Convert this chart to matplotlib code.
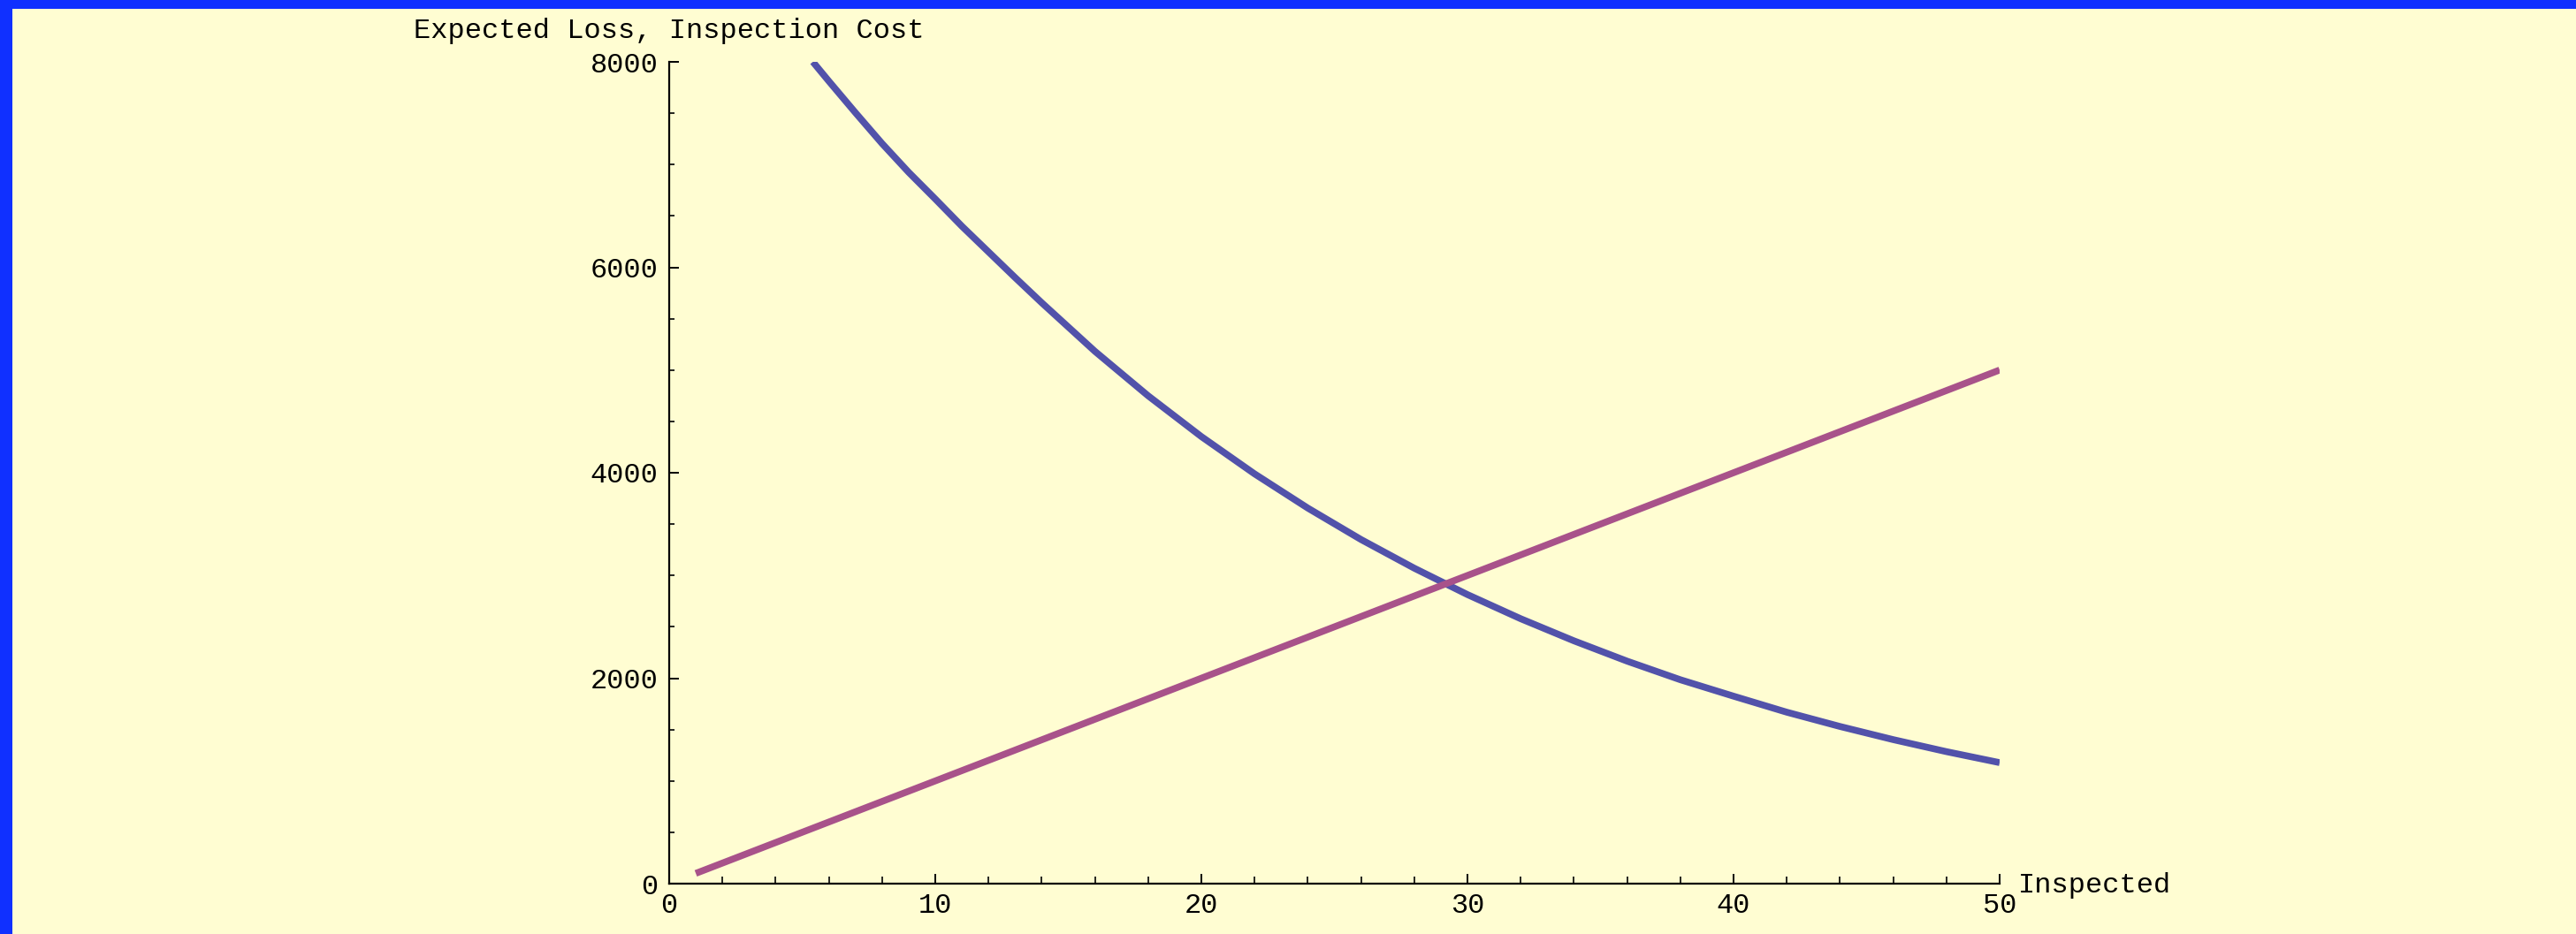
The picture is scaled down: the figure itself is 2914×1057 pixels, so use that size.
import matplotlib
matplotlib.use('Agg')
import matplotlib.pyplot as plt
from matplotlib.patches import Rectangle
from matplotlib.ticker import MultipleLocator

plt.rcParams['font.family'] = ['Liberation Mono', 'DejaVu Sans Mono']
plt.rcParams['font.size'] = 23

# values
inspected_cost = [1, 50]
cost = [100, 5000]

inspected_loss = [5.4, 6, 7, 8, 9, 10, 11, 12, 13, 14, 16, 18, 20, 22, 24, 26, 28,
                  30, 32, 34, 36, 38, 40, 42, 44, 46, 48, 50]
loss = [8000, 7812, 7505, 7205, 6925, 6665, 6400, 6150, 5900, 5655, 5182, 4749,
        4352, 3989, 3656, 3350, 3071, 2814, 2579, 2364, 2166, 1985, 1825, 1669,
        1530, 1402, 1285, 1178]

x_label = 'Inspected'
y_label = 'Expected Loss, Inspection Cost'

bg = '#FFFDD2'
W, H = 2914, 1057
fig = plt.figure(figsize=(W / 100, H / 100), dpi=100, facecolor=bg)
ax = fig.add_axes([757 / W, 1 - 1000 / H, (2262 - 757) / W, (1000 - 70) / H])
ax.set_facecolor(bg)

ax.plot(inspected_loss, loss, color='#5252AA', lw=5.5, solid_capstyle='butt',
        solid_joinstyle='round')
ax.plot(inspected_cost, cost, color='#A8528A', lw=5.5, solid_capstyle='butt')

ax.set_xlim(0, 50)
ax.set_ylim(0, 8000)
ax.spines['top'].set_visible(False)
ax.spines['right'].set_visible(False)
ax.spines['left'].set_linewidth(1.6)
ax.spines['bottom'].set_linewidth(1.6)

ax.xaxis.set_major_locator(MultipleLocator(10))
ax.xaxis.set_minor_locator(MultipleLocator(2))
ax.yaxis.set_major_locator(MultipleLocator(2000))
ax.yaxis.set_minor_locator(MultipleLocator(500))
ax.tick_params(axis='x', which='major', direction='in', length=8, width=1.4, pad=7)
ax.tick_params(axis='x', which='minor', direction='in', length=6, width=1.2)
ax.tick_params(axis='y', which='major', direction='in', length=8, width=1.4, pad=9)
ax.tick_params(axis='y', which='minor', direction='in', length=4, width=1.2)

ax.annotate(y_label, xy=(0, 1), xycoords='axes fraction', xytext=(0, 25),
            textcoords='offset points', ha='center', va='center')
ax.annotate(x_label, xy=(1, 0), xycoords='axes fraction', xytext=(15, -7),
            textcoords='offset points', ha='left', va='baseline')

# blue frame at top and left
fig.add_artist(Rectangle((0, 1 - 10 / H), 1, 10 / H, transform=fig.transFigure,
                         color='#1030FF', lw=0))
fig.add_artist(Rectangle((0, 0), 14 / W, 1, transform=fig.transFigure,
                         color='#1030FF', lw=0))

plt.savefig('out.png', dpi=100, facecolor=bg)
